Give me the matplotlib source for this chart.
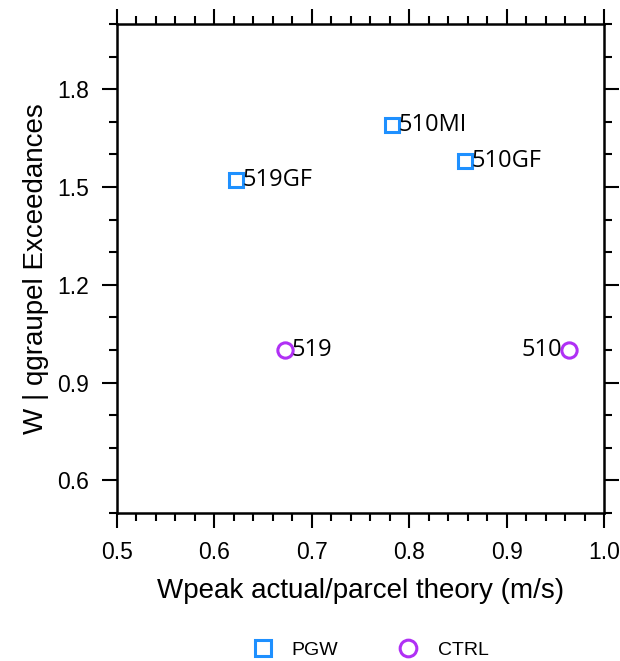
import matplotlib
matplotlib.use("Agg")
import matplotlib.pyplot as plt
from matplotlib.ticker import MultipleLocator, FormatStrFormatter
from matplotlib.lines import Line2D

# Future-climate (PGW) runs
pgw_names = ["519GF", "510MI", "510GF"]
pgw_x = [0.622, 0.782, 0.857]
pgw_y = [1.52, 1.69, 1.58]

# Control runs
ctrl_names = ["519", "510"]
ctrl_x = [0.672, 0.964]
ctrl_y = [1.0, 1.0]

BLUE = "#1E90FF"
PURPLE = "#B030F5"

fig = plt.figure(figsize=(6.2, 6.61), dpi=100)
ax = fig.add_axes([0.1887, 0.2239, 0.7855, 0.7398])

ax.plot(pgw_x, pgw_y, linestyle="none", marker="s", markersize=10.5,
        markerfacecolor="none", markeredgecolor=BLUE, markeredgewidth=2.2)
ax.plot(ctrl_x, ctrl_y, linestyle="none", marker="o", markersize=11,
        markerfacecolor="none", markeredgecolor=PURPLE, markeredgewidth=2.2)

label_font = dict(family=["Open Sans", "DejaVu Sans"], fontsize=17)
for name, x, y in zip(pgw_names, pgw_x, pgw_y):
    ax.annotate(name, (x, y), xytext=(5, 0), textcoords="offset points",
                va="center", ha="left", **label_font)
ax.annotate(ctrl_names[0], (ctrl_x[0], ctrl_y[0]), xytext=(5, 0),
            textcoords="offset points", va="center", ha="left", **label_font)
ax.annotate(ctrl_names[1], (ctrl_x[1], ctrl_y[1]), xytext=(-5, 0),
            textcoords="offset points", va="center", ha="right", **label_font)

ax.set_xlim(0.5, 1.0)
ax.set_ylim(0.5, 2.0)
ax.xaxis.set_major_locator(MultipleLocator(0.1))
ax.xaxis.set_minor_locator(MultipleLocator(0.02))
ax.yaxis.set_minor_locator(MultipleLocator(0.1))
ax.set_yticks([0.6, 0.9, 1.2, 1.5, 1.8])
ax.xaxis.set_major_formatter(FormatStrFormatter("%.1f"))
ax.yaxis.set_major_formatter(FormatStrFormatter("%.1f"))

for s in ax.spines.values():
    s.set_linewidth(1.8)

ax.tick_params(which="both", direction="out", top=True, right=True,
               labeltop=False, labelright=False, width=1.5)
ax.tick_params(which="major", length=11, labelsize=16.5, pad=9)
ax.tick_params(which="minor", length=6)
for lab in ax.get_xticklabels() + ax.get_yticklabels():
    lab.set_family(["Liberation Sans", "DejaVu Sans"])

ax.set_xlabel("Wpeak actual/parcel theory (m/s)", fontsize=20,
              family=["Liberation Sans", "DejaVu Sans"], labelpad=10)
ax.set_ylabel("W | qgraupel Exceedances", fontsize=20,
              family=["Liberation Sans", "DejaVu Sans"], labelpad=6)

handles = [
    Line2D([], [], linestyle="none", marker="s", markersize=11,
           markerfacecolor="none", markeredgecolor=BLUE, markeredgewidth=2.2,
           label="PGW"),
    Line2D([], [], linestyle="none", marker="o", markersize=12,
           markerfacecolor="none", markeredgecolor=PURPLE, markeredgewidth=2.2,
           label="CTRL"),
]
fig.legend(handles=handles, loc="center", bbox_to_anchor=(0.590, 0.016),
           ncol=2, frameon=False, prop={"family": "Liberation Sans", "size": 14},
           columnspacing=2.6, handletextpad=0.5)

fig.savefig("out.png", dpi=100)
